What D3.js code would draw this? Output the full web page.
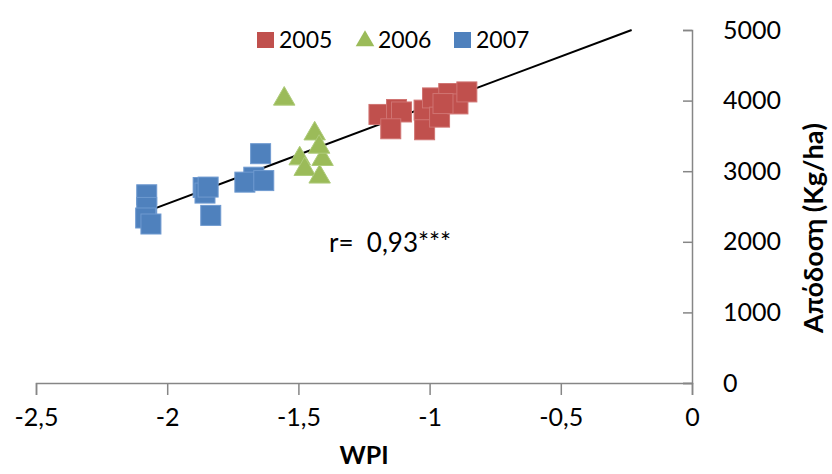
<!DOCTYPE html>
<html>
<head>
<meta charset="utf-8">
<script src="https://cdn.jsdelivr.net/npm/d3@7"></script>
<style>
  html, body { margin: 0; padding: 0; background: #fff; }
  svg { display: block; }
  text { font-family: Lato, "Open Sans", sans-serif; fill: #000; }
</style>
</head>
<body>
<svg id="chart" width="832" height="474"></svg>
<script>
// ---- data ----
const series = ["2005", "2006", "2007"];
const wpi2005 = [-1.193, -1.126, -1.107, -1.148, -1.021, -1.019, -0.989, -0.962, -0.927, -0.892, -0.858, -0.949];
const yield2005 = [3804, 3874, 3839, 3601, 3865, 3587, 4038, 3766, 4100, 3953, 4123, 3958];
const wpi2006 = [-1.554, -1.438, -1.495, -1.476, -1.419, -1.408, -1.421];
const yield2006 = [4052, 3559, 3206, 3056, 2948, 3197, 3371];
const wpi2007 = [-2.078, -2.078, -2.082, -2.062, -1.863, -1.856, -1.844, -1.834, -1.644, -1.670, -1.704, -1.632];
const yield2007 = [2666, 2487, 2337, 2252, 2769, 2690, 2775, 2374, 3248, 2915, 2845, 2867];
const trendX = [-2.085, -0.23];
const trendY = [2420, 5000];
const xTicks = [-2.5, -2, -1.5, -1, -0.5, 0];
const yTicks = [0, 1000, 2000, 3000, 4000, 5000];
const xTitle = "WPI";
const yTitle = "Απόδοση (Kg/ha)";
const annotation = "r=  0,93***";

// ---- layout ----
const svg = d3.select("#chart");
const x = d3.scaleLinear().domain([-2.5, 0]).range([36, 692]);
const y = d3.scaleLinear().domain([0, 5000]).range([383, 30]);
const colors = {"2005": "#C0504D", "2006": "#9BBB59", "2007": "#4F81BD"};
const strokes = {"2005": "#D07472", "2006": "#AECB7A", "2007": "#6F9AD0"};
const axisColor = "#868686";
const fmt = d => String(d).replace(".", ",");

// x axis
const xAxis = svg.append("g").attr("transform", `translate(0,${y(0)})`)
  .call(d3.axisBottom(x).tickValues(xTicks).tickFormat(fmt).tickSize(12).tickPadding(13));
xAxis.select(".domain").attr("stroke", axisColor).attr("stroke-width", 1.5);
xAxis.selectAll(".tick line").attr("stroke", axisColor).attr("stroke-width", 1.5);
xAxis.selectAll("text").style("font-size", "25px").attr("fill", "#000").style("font-family", "Lato, sans-serif");

// y axis on the right, ticks pointing inward
const yAxis = svg.append("g").attr("transform", `translate(${x(0)},0)`)
  .call(d3.axisLeft(y).tickValues(yTicks).tickSize(9).tickFormat(d3.format("d")));
yAxis.select(".domain").attr("stroke", axisColor).attr("stroke-width", 1.5);
yAxis.selectAll(".tick line").attr("stroke", axisColor).attr("stroke-width", 1.5);
yAxis.selectAll("text").attr("x", 31).attr("text-anchor", "start")
  .style("font-size", "25px").attr("fill", "#000").style("font-family", "Lato, sans-serif");

// trend line
svg.append("line")
  .attr("x1", x(trendX[0])).attr("y1", y(trendY[0]))
  .attr("x2", x(trendX[1])).attr("y2", y(trendY[1]))
  .attr("stroke", "#000").attr("stroke-width", 2);

// markers
const sq = 20;
function squares(xs, ys, key) {
  svg.append("g").selectAll("rect").data(xs.map((d, i) => [d, ys[i]])).join("rect")
    .attr("x", d => x(d[0]) - sq / 2).attr("y", d => y(d[1]) - sq / 2)
    .attr("width", sq).attr("height", sq)
    .attr("fill", colors[key]).attr("stroke", strokes[key]).attr("stroke-width", 1);
}
const tri = d3.symbol().type(d3.symbolTriangle).size(200);
squares(wpi2007, yield2007, "2007");
squares(wpi2005, yield2005, "2005");
svg.append("g").selectAll("path").data(wpi2006.map((d, i) => [d, yield2006[i]])).join("path")
  .attr("d", tri)
  .attr("transform", d => `translate(${x(d[0])},${y(d[1]) + 2})`)
  .attr("fill", colors["2006"]).attr("stroke", strokes["2006"]).attr("stroke-width", 1);

// annotation
svg.append("text").attr("x", 329).attr("y", 252).attr("text-anchor", "start")
  .attr("xml:space", "preserve").style("white-space", "pre")
  .style("font-size", "26px").text(annotation);

// legend
const legendX = [257, 356, 454];
series.forEach((s, i) => {
  const g = svg.append("g").attr("transform", `translate(${legendX[i]},40)`);
  if (s === "2006") {
    g.append("path").attr("d", d3.symbol().type(d3.symbolTriangle).size(150)).attr("transform", "translate(9,1)")
      .attr("fill", colors[s]);
  } else {
    g.append("rect").attr("x", 0).attr("y", -8).attr("width", 17).attr("height", 16).attr("fill", colors[s]);
  }
  g.append("text").attr("x", 22).attr("y", 8).style("font-size", "23px").text(s);
});

// titles
svg.append("text").attr("x", x(-1.25)).attr("y", 464).attr("text-anchor", "middle")
  .style("font-size", "25px").style("font-weight", "bold").text(xTitle);
svg.append("text").attr("transform", `translate(823,228) rotate(-90)`).attr("text-anchor", "middle")
  .style("font-size", "27px").style("font-weight", "bold").text(yTitle);
</script>
</body>
</html>
